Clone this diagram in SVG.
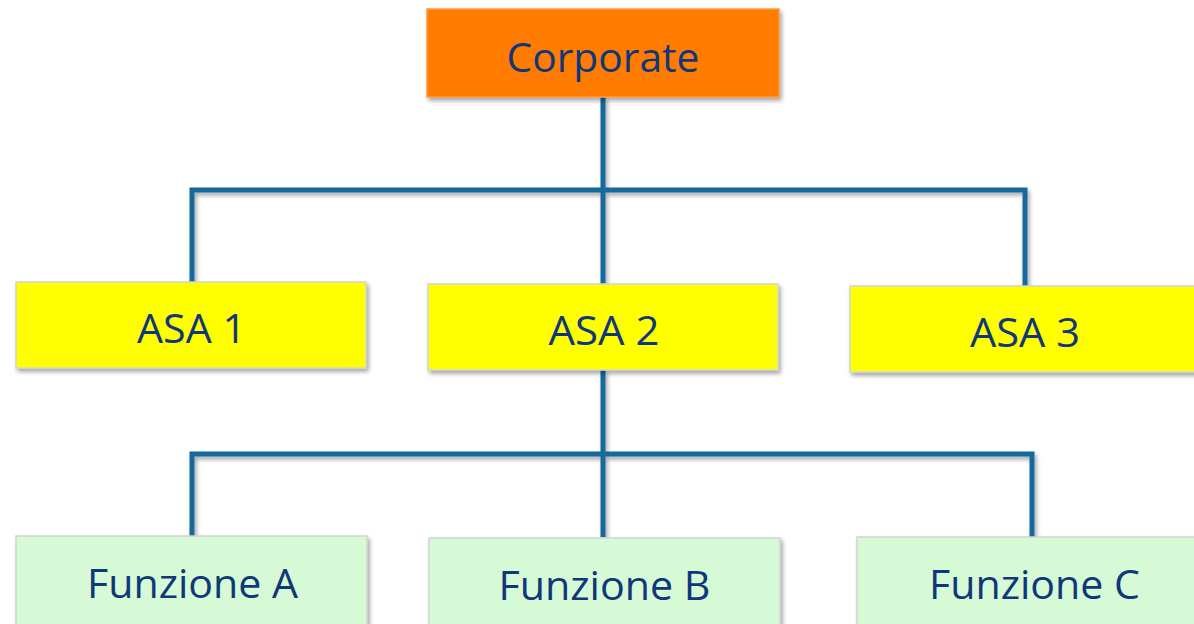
<svg xmlns="http://www.w3.org/2000/svg" width="1194" height="624" viewBox="0 0 1194 624">
  <style>
    .box { stroke: #d4d4d4; stroke-width: 1.5; filter: url(#shadow); }
    .top { fill: #ff7c00; stroke: #ff9a40; }
    .asa { fill: #ffff00; }
    .fun { fill: #d5fad5; }
    .label { font-family: "Open Sans", "Liberation Sans", sans-serif; font-size: 41px; fill: #10377a; text-anchor: middle; }
    .link { fill: none; stroke: #18699c; stroke-width: 5; stroke-linejoin: miter; }
  </style>
  <defs>
    <filter id="shadow" filterUnits="userSpaceOnUse" x="0" y="0" width="1194" height="624">
      <feDropShadow dx="2" dy="3" stdDeviation="2" flood-color="#000" flood-opacity="0.35"/>
    </filter>
  </defs>
  <rect width="1194" height="624" fill="#ffffff"/>

  <g id="connectors" filter="url(#shadow)">
    <path class="link" d="M603 97 V284"/>
    <path class="link" d="M192 282 V190 H603 M603 190 H1025 V286"/>
    <path class="link" d="M603 370 V537"/>
    <path class="link" d="M192 536 V454 H603 M603 454 H1032 V537"/>
  </g>

  <g id="corporate">
    <rect class="box top" x="427" y="9" width="352" height="88"/>
    <text class="label" x="603" y="72" textLength="193" lengthAdjust="spacingAndGlyphs">Corporate</text>
  </g>

  <g id="asa1">
    <rect class="box asa" x="16" y="282" width="350" height="86"/>
    <text class="label" x="191.5" y="343" textLength="109" lengthAdjust="spacingAndGlyphs">ASA 1</text>
  </g>
  <g id="asa2">
    <rect class="box asa" x="428" y="284" width="350" height="86"/>
    <text class="label" x="604" y="345" textLength="111" lengthAdjust="spacingAndGlyphs">ASA 2</text>
  </g>
  <g id="asa3">
    <rect class="box asa" x="850" y="286" width="350" height="86"/>
    <text class="label" x="1025" y="347" textLength="110" lengthAdjust="spacingAndGlyphs">ASA 3</text>
  </g>

  <g id="funzione-a">
    <rect class="box fun" x="16" y="536" width="351" height="90"/>
    <text class="label" x="192.5" y="598" textLength="211" lengthAdjust="spacingAndGlyphs">Funzione A</text>
  </g>
  <g id="funzione-b">
    <rect class="box fun" x="429" y="538" width="351" height="90"/>
    <text class="label" x="604.5" y="600" textLength="212" lengthAdjust="spacingAndGlyphs">Funzione B</text>
  </g>
  <g id="funzione-c">
    <rect class="box fun" x="857" y="537" width="351" height="90"/>
    <text class="label" x="1034.5" y="599" textLength="211" lengthAdjust="spacingAndGlyphs">Funzione C</text>
  </g>
</svg>
